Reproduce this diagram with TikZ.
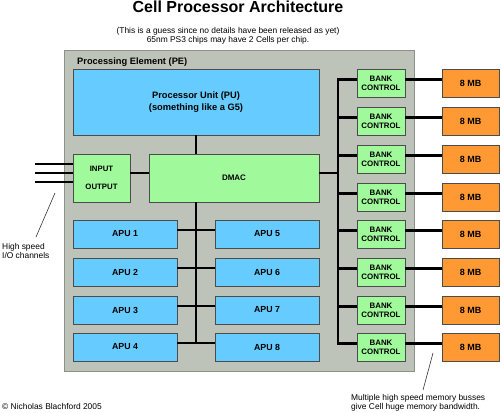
\documentclass[tikz,border=0pt]{standalone}
\usepackage{fontspec}
\setmainfont{Liberation Sans}
\definecolor{pegray}{RGB}{190,195,186}
\definecolor{peedge}{RGB}{140,146,138}
\definecolor{pblue}{RGB}{102,204,255}
\definecolor{pgreen}{RGB}{160,250,155}
\definecolor{porange}{RGB}{255,153,51}
\begin{document}
\begin{tikzpicture}[x=1pt,y=-1pt,
  box/.style={draw=black!70, line width=0.7pt, inner sep=0pt, outer sep=0pt,
    anchor=north west, align=center, font=\bfseries\fontsize{8.8}{10.5}\selectfont},
  bluebox/.style={box, fill=pblue},
  greenbox/.style={box, fill=pgreen},
  bankbox/.style={box, fill=pgreen, minimum width=48pt, minimum height=28pt,
    font=\bfseries\fontsize{7.9}{9.3}\selectfont},
  membox/.style={box, fill=porange, minimum width=57pt, minimum height=28pt,
    font=\bfseries\fontsize{9}{10}\selectfont},
  apubox/.style={box, fill=pblue, minimum width=104pt, minimum height=28pt},
  bus/.style={line width=2.6pt, black, line join=miter},
  chan/.style={line width=2.2pt, black},
  pointer/.style={line width=0.6pt, black!80},
  caption/.style={inner sep=0pt, anchor=base west, font=\fontsize{8.4}{9}\selectfont},
]
\useasboundingbox (0,0) rectangle (500,412);

% titles
\node[inner sep=0pt, anchor=base, font=\bfseries\fontsize{16}{18}\selectfont] (title) at (238,12.7) {Cell Processor Architecture};
\node[inner sep=0pt, anchor=base, font=\fontsize{8.4}{9}\selectfont] (sub1) at (228,33.5) {(This is a guess since no details have been released as yet)};
\node[inner sep=0pt, anchor=base, font=\fontsize{8.4}{9}\selectfont] (sub2) at (228,42) {65nm PS3 chips may have 2 Cells per chip.};

% processing element
\node[draw=peedge, fill=pegray, line width=0.8pt, inner sep=0pt, outer sep=0pt,
  anchor=north west, minimum width=350pt, minimum height=321pt] (pe) at (64,50) {};
\node[inner sep=0pt, anchor=base west, font=\bfseries\fontsize{9.3}{11}\selectfont] (pelabel) at (77,64) {Processing Element (PE)};

\node[bluebox, minimum width=246pt, minimum height=66pt, font=\bfseries\fontsize{9.3}{11.5}\selectfont] (pu) at (73,69) {Processor Unit (PU)\\(something like a G5)};
\node[greenbox, minimum width=57pt, minimum height=48pt, font=\bfseries\fontsize{7.8}{9}\selectfont] (io) at (73,154) {INPUT\\[9pt]OUTPUT};
\node[greenbox, minimum width=170pt, minimum height=48pt, font=\bfseries\fontsize{8}{10}\selectfont] (dmac) at (149,154) {DMAC};

\foreach \i/\t in {1/220,2/258,3/296,4/333}{
  \node[apubox] (apu\i) at (73,\t) {APU \i};
}
\foreach \i/\t in {5/220,6/258,7/296,8/333}{
  \node[apubox] (apu\i) at (215,\t) {APU \i};
}
\foreach \i/\t in {1/69,2/107,3/145,4/183,5/220,6/258,7/296,8/333}{
  \node[bankbox] (bank\i) at (357,\t) {BANK\\CONTROL};
  \node[membox] (mem\i) at (442,\t) {8 MB};
}

% PU - DMAC
\draw[bus] (pu.south) -- (pu.south |- dmac.north);
% IO - DMAC
\coordinate (iol) at ([yshift=5pt]io.east);
\draw[bus] (iol) -- (iol -| dmac.west);
% APU bus
\foreach \i/\j in {1/5,2/6,3/7,4/8}{
  \coordinate (al\i) at ([yshift=4pt]apu\i.east);
  \draw[bus] (al\i) -- (al\i -| apu\j.west);
}
\draw[bus] (pu.south |- dmac.south) -- (pu.south |- al4);

% bank bus
\coordinate (bbx) at (338,0);
\coordinate (dr) at ([yshift=5pt]dmac.east);
\draw[bus] (dr) -- (dr -| bbx);
\foreach \i in {1,...,8}{
  \coordinate (bl\i) at ([yshift=3.5pt]bank\i.west);
  \coordinate (br\i) at ([yshift=3.5pt]bank\i.east);
  \draw[bus] (br\i) -- (br\i -| mem\i.west);
}
\foreach \i in {2,...,7}{
  \draw[bus] (bl\i) -- (bl\i -| bbx);
}
\draw[bus] (bl1) -- (bl1 -| bbx) -- (bl8 -| bbx) -- (bl8);

% I/O channels
\foreach \k/\y in {1/164,2/173,3/182}{
  \coordinate (ch\k) at (35,\y);
  \draw[chan] (ch\k) -- (ch\k -| io.west);
}

% pointers
\coordinate (p1a) at (55,193);
\coordinate (p1b) at (36,237);
\draw[pointer] (p1a) -- (p1b);
\coordinate (p2a) at (433,353);
\coordinate (p2b) at (423,390);
\draw[pointer] (p2a) -- (p2b);

% captions
\node[caption] (hs1) at (2,249.5) {High speed};
\node[caption] (hs2) at (2,258.5) {I/O channels};
\node[caption] (mb1) at (351,400.5) {Multiple high speed memory busses};
\node[caption] (mb2) at (351,409.5) {give Cell huge memory bandwidth.};
\node[caption] (copy) at (2,409.5) {© Nicholas Blachford 2005};
\end{tikzpicture}
\end{document}
